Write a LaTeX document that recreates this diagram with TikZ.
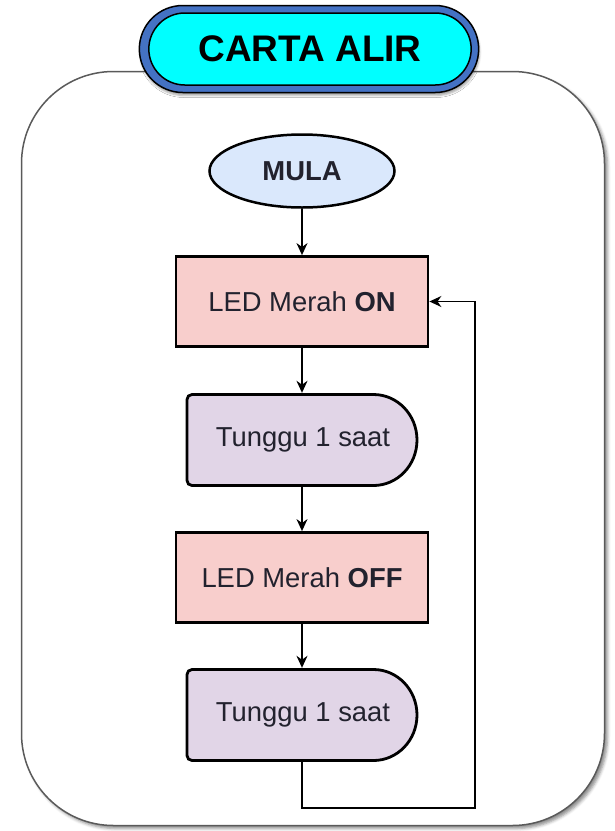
\documentclass[tikz,border=0pt]{standalone}
\usepackage{fontspec}
\setmainfont{Liberation Sans}
\usetikzlibrary{shapes.geometric,shapes.misc,arrows.meta,shadows.blur}
\definecolor{ringblue}{HTML}{4472C4}
\definecolor{pillcyan}{HTML}{00FFFF}
\definecolor{startblue}{HTML}{DAE8FC}
\definecolor{ledred}{HTML}{F8CECC}
\definecolor{waitpurple}{HTML}{E1D5E7}
\definecolor{framegray}{HTML}{5A5A5A}
\definecolor{textdark}{HTML}{22222E}
\begin{document}
\begin{tikzpicture}[x=1pt,y=1pt,
  bodyfont/.style={font=\fontsize{27.4}{31}\selectfont},
  panel/.style={draw=framegray,line width=1.5pt,fill=white,rounded corners=92pt,
    blur shadow={shadow xshift=3pt,shadow yshift=-3pt,shadow blur radius=3pt,shadow opacity=45}},
  ring/.style={rounded rectangle,draw=black,line width=1.5pt,fill=ringblue,
    minimum width=346pt,minimum height=87pt,
    blur shadow={shadow xshift=1pt,shadow yshift=-3pt,shadow blur radius=2pt,shadow opacity=35}},
  pill/.style={rounded rectangle,draw=black,line width=1.5pt,fill=pillcyan,
    minimum width=329pt,minimum height=72pt,font=\bfseries\fontsize{37}{41}\selectfont},
  startnode/.style={ellipse,draw=black,line width=2.5pt,fill=startblue,
    minimum width=185pt,minimum height=73pt,text=textdark,font=\bfseries\fontsize{27.4}{31}\selectfont},
  actbox/.style={rectangle,draw=black,line width=2.8pt,fill=ledred,
    minimum width=252pt,minimum height=90pt,text=textdark,bodyfont},
  waittext/.style={rectangle,draw=none,minimum width=230pt,minimum height=94pt,
    inner sep=0pt,text=textdark,bodyfont},
  waitline/.style={draw=black,line width=2.8pt,fill=waitpurple},
  flow/.style={draw=black,line width=1.4pt,-{Stealth[length=12pt,width=11pt]}},
  delay/.pic={
    \draw[waitline] (71.5,-45.5) -- (-110,-45.5)
      arc[start angle=270,end angle=180,radius=5]
      -- (-115,40.5) arc[start angle=180,end angle=90,radius=5]
      -- (71.5,45.5) arc[start angle=90,end angle=-90,x radius=43.5,y radius=45.5]
      -- cycle;
  }
]
\useasboundingbox (0,0) rectangle (615,-831);

% frame around the chart
\draw[panel] (21.5,-71.5) rectangle (604.5,-825.5);

% heading
\node[ring] (titlering) at (309,-49) {};
\node[pill] (title) at (310,-49) {CARTA ALIR};

% flowchart steps
\node[startnode] (mula) at (302,-171) {MULA};
\node[actbox] (led1) at (302,-301.5) {LED Merah \textbf{ON}};
\pic at (302,-440) {delay};
\node[waittext] (t1) at (303,-440) {Tunggu 1 saat};
\node[actbox] (led2) at (302,-577.5) {LED Merah \textbf{OFF}};
\pic at (302,-715) {delay};
\node[waittext] (t2) at (303,-715) {Tunggu 1 saat};

% connectors
\draw[flow] (mula.south) -- (led1.north);
\draw[flow] (led1.south) -- ([xshift=-1pt]t1.north);
\draw[flow] ([xshift=-1pt]t1.south) -- (led2.north);
\draw[flow] (led2.south) -- ([xshift=-1pt]t2.north);
\coordinate (loopc) at (475,-808);
\draw[flow] ([xshift=-1pt]t2.south) |- (loopc) |- (led1.east);
\end{tikzpicture}
\end{document}
